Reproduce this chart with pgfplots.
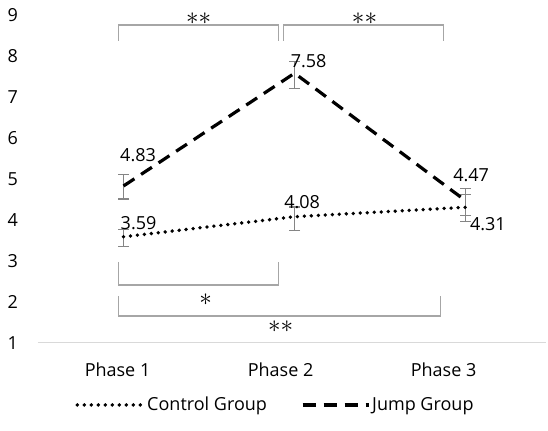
\documentclass[border=0pt]{standalone}
\usepackage{graphicx}
\usepackage{pgfplots}
\pgfplotsset{compat=1.18}
\usepackage{fontspec}
\setmainfont{Open Sans}
\definecolor{errgray}{HTML}{858585}
\definecolor{brgray}{HTML}{A6A6A6}
\definecolor{axgray}{HTML}{D9D9D9}
\newcommand{\st}{\scalebox{1.45}{$\ast$}}
\begin{document}
\fontsize{18pt}{21pt}\selectfont
\begin{tikzpicture}
\begin{axis}[
  name=ax,
  scale only axis,
  width=508pt, height=328pt,
  xmin=-0.5, xmax=2.47,
  ymin=1, ymax=9,
  ytick={1,2,...,9},
  xtick={-0.035,0.918,1.871},
  xticklabels={Phase 1,Phase 2,Phase 3},
  axis lines*=left,
  y axis line style={draw=none},
  x axis line style={draw=axgray, line width=1pt, -},
  major tick length=0pt,
  xticklabel style={yshift=-14pt},
  yticklabel style={xshift=-14pt},
  /pgf/number format/assume math mode=true,
  ticklabel style={font=\fontsize{18pt}{21pt}\selectfont},
  clip=false,
  legend columns=2,
  legend image code/.code={\draw[#1] (0pt,0pt) -- (66pt,0pt);},
  legend style={draw=none, fill=none, at={(0.4675,-0.189)}, anchor=center,
    font=\fontsize{18pt}{21pt}\selectfont, inner sep=0pt,
    /tikz/every even column/.append style={column sep=32pt},
    cells={anchor=west}},
]
% error bars (drawn first)
\addplot[draw=none, forget plot, error bars/.cd, y dir=both, y explicit,
  error bar style={errgray, line width=1.3pt},
  error mark options={rotate=90, errgray, mark size=5.5pt, line width=1.3pt}]
  coordinates {(0,4.81) +- (0,0.30) (1,7.535) +- (0,0.325) (2,4.44) +- (0,0.33)};
\addplot[draw=none, forget plot, error bars/.cd, y dir=both, y explicit,
  error bar style={errgray, line width=1.3pt},
  error mark options={rotate=90, errgray, mark size=5.5pt, line width=1.3pt}]
  coordinates {(0,3.56) +- (0,0.21) (1,4.03) +- (0,0.29) (2,4.30) +- (0,0.33)};
% series
\addplot[black, line width=3.8pt, line cap=round, dash pattern=on 0pt off 7pt, mark=none]
  coordinates {(0,3.59) (1,4.08) (2,4.31)};
\addlegendentry{Control Group}
\addplot[black, line width=3.2pt, dash pattern=on 13pt off 8pt, mark=none]
  coordinates {(0,4.83) (1,7.58) (2,4.47)};
\addlegendentry{Jump Group}
% data labels
\node at (axis cs:0.085,5.585) {4.83};
\node at (axis cs:0.088,3.93) {3.59};
\node at (axis cs:1.082,7.88) {7.58};
\node at (axis cs:1.044,4.44) {4.08};
\node at (axis cs:2.032,5.10) {4.47};
\node at (axis cs:2.13,3.90) {4.31};
% significance brackets
\draw[brgray, line width=1.3pt] (axis cs:-0.029,8.366) |- (axis cs:0.906,8.756) -- (axis cs:0.906,8.366);
\draw[brgray, line width=1.3pt] (axis cs:0.936,8.366) |- (axis cs:1.871,8.756) -- (axis cs:1.871,8.366);
\node[inner sep=0pt] at (axis cs:0.439,8.92) {\st\st};
\node[inner sep=0pt] at (axis cs:1.409,8.92) {\st\st};
\draw[brgray, line width=1.3pt] (axis cs:-0.029,2.976) |- (axis cs:0.906,2.415) -- (axis cs:0.906,2.976);
\draw[brgray, line width=1.3pt] (axis cs:-0.029,2.146) |- (axis cs:1.854,1.66) -- (axis cs:1.854,2.146);
\node[inner sep=0pt] at (axis cs:0.48,2.05) {\st};
\node[inner sep=0pt] at (axis cs:0.918,1.39) {\st\st};
\end{axis}
\pgfresetboundingbox
\path ([shift={(-38pt,-88pt)}]ax.south west) rectangle ([shift={(2pt,15pt)}]ax.north east);
\end{tikzpicture}
\end{document}
